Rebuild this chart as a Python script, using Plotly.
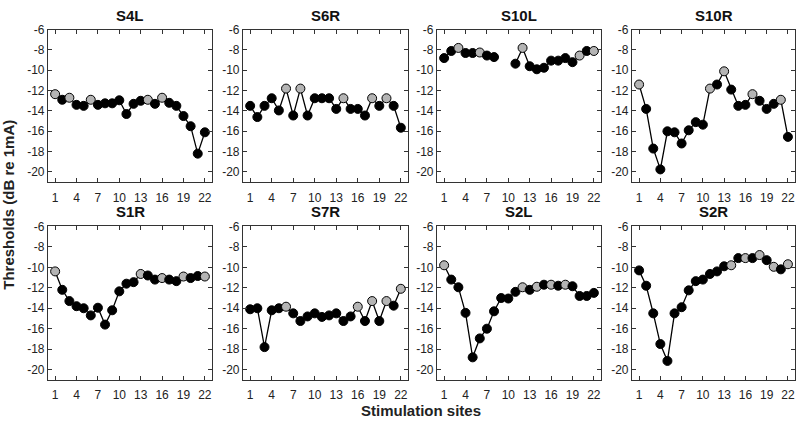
import plotly.graph_objects as go

sites = list(range(1, 23))
subjects = ["S4L", "S6R", "S10L", "S10R", "S1R", "S7R", "S2L", "S2R"]

s4l = [-12.35, -12.9, -12.7, -13.4, -13.5, -12.9, -13.4, -13.25, -13.25, -12.95, -14.3,
       -13.3, -13.0, -12.9, -13.3, -12.7, -13.2, -13.5, -14.5, -15.5, -18.2, -16.1]
s6r = [-13.5, -14.6, -13.5, -12.75, -13.95, -11.8, -14.45, -11.8, -14.45, -12.75, -12.75,
       -12.75, -13.8, -12.75, -13.8, -13.8, -14.45, -12.75, -13.5, -12.75, -13.5, -15.65]
s10l = [-8.8, -8.1, -7.8, -8.3, -8.3, -8.25, -8.55, -8.7, None, None, -9.35,
        -7.8, -9.6, -9.9, -9.75, -9.05, -9.05, -8.8, -9.2, -8.55, -8.1, -8.1]
s10r = [-11.4, -13.8, -17.7, -19.75, -16.0, -16.1, -17.2, -15.9, -15.1, -15.35, -11.8,
        -11.4, -10.1, -11.9, -13.5, -13.4, -12.35, -13.0, -13.8, -13.3, -12.9, -16.55]
s1r = [-10.4, -12.2, -13.3, -13.8, -14.0, -14.7, -13.95, -15.6, -14.2, -12.35, -11.6,
       -11.45, -10.65, -10.8, -11.2, -11.05, -11.2, -11.35, -10.9, -11.05, -10.85, -10.9]
s7r = [-14.1, -14.0, -17.8, -14.2, -14.0, -13.85, -14.5, -15.25, -14.8, -14.5, -14.85,
       -14.7, -14.5, -15.25, -14.8, -13.85, -15.25, -13.3, -15.25, -13.3, -13.75, -12.1]
s2l = [-9.8, -11.2, -11.95, -14.45, -18.8, -16.95, -16.0, -14.3, -13.0, -13.05, -12.4,
       -11.95, -12.2, -11.9, -11.7, -11.7, -11.8, -11.7, -11.85, -12.8, -12.8, -12.5]
s2r = [-10.3, -11.8, -14.5, -17.5, -19.15, -14.5, -13.9, -12.25, -11.35, -11.2, -10.65,
       -10.4, -9.9, -9.8, -9.1, -9.1, -9.1, -8.8, -9.3, -9.95, -10.2, -9.7]

# sites drawn with a grey marker
grey_s4l = [1, 3, 6, 14, 16]
grey_s6r = [6, 8, 14, 18, 20]
grey_s10l = [3, 6, 12, 20, 22]
grey_s10r = [1, 11, 13, 17, 21]
grey_s1r = [1, 13, 16, 19, 22]
grey_s7r = [6, 16, 18, 20, 22]
grey_s2l = [1, 12, 14, 16, 18]
grey_s2r = [14, 16, 18, 20, 22]

values = [s4l, s6r, s10l, s10r, s1r, s7r, s2l, s2r]
greys = [grey_s4l, grey_s6r, grey_s10l, grey_s10r, grey_s1r, grey_s7r, grey_s2l, grey_s2r]

x_ticks = [1, 4, 7, 10, 13, 16, 19, 22]
y_ticks = [-6, -8, -10, -12, -14, -16, -18, -20]
y_tick_labels = ["-6", "-8", "-10", "-12", "-14", "-16", "-18", "-20"]

W, H = 798, 432
col_px = [(48, 212), (243, 408), (437, 601), (632, 795)]
row_px = [(23, 178), (223, 379)]


def fx(px):
    return px / W


def fy(py):
    return 1 - py / H


fig = go.Figure()
layout = dict(width=W, height=H, margin=dict(l=0, r=0, t=0, b=0),
              paper_bgcolor="white", plot_bgcolor="white", showlegend=False,
              font=dict(family="Liberation Sans, Arial, sans-serif", color="#222"))
annotations = []
for i, (name, vals, grey) in enumerate(zip(subjects, values, greys)):
    r, c = divmod(i, 4)
    n = i + 1
    xa = "x" if n == 1 else f"x{n}"
    ya = "y" if n == 1 else f"y{n}"
    colors = ["#b4b4b4" if s in grey else "black" for s in sites]
    fig.add_trace(go.Scatter(
        x=sites, y=vals, mode="lines+markers", xaxis=xa, yaxis=ya,
        connectgaps=False, cliponaxis=False,
        line=dict(color="black", width=1.3),
        marker=dict(size=9, color=colors, line=dict(color="black", width=1)),
    ))
    x0, x1 = col_px[c]
    y0, y1 = row_px[r]
    common = dict(showline=True, linecolor="#333", linewidth=1.2, mirror="ticks",
                  ticks="inside", ticklen=4, tickcolor="#333", showgrid=False,
                  zeroline=False, tickfont=dict(size=12, color="#222"))
    layout["xaxis" + ("" if n == 1 else str(n))] = dict(
        domain=[fx(x0), fx(x1)], range=[0, 23], tickvals=x_ticks,
        anchor=ya, ticklabelstandoff=4, **common)
    layout["yaxis" + ("" if n == 1 else str(n))] = dict(
        domain=[fy(y1), fy(y0)], range=[-21, -6], tickvals=y_ticks,
        ticktext=y_tick_labels, anchor=xa, **common)
    annotations.append(dict(text=f"<b>{name}</b>", x=fx((x0 + x1) / 2), y=fy(y0 - 4),
                            xref="paper", yref="paper", xanchor="center", yanchor="bottom",
                            showarrow=False, font=dict(size=15, color="#111")))

annotations.append(dict(text="<b>Thresholds (dB re 1mA)</b>", x=fx(9), y=fy(201),
                        xref="paper", yref="paper", textangle=-90, showarrow=False,
                        xanchor="center", yanchor="middle", font=dict(size=15, color="#222")))
annotations.append(dict(text="<b>Stimulation sites</b>", x=fx(421), y=fy(410),
                        xref="paper", yref="paper", showarrow=False,
                        xanchor="center", yanchor="middle", font=dict(size=15, color="#222")))
layout["annotations"] = annotations
fig.update_layout(**layout)
fig.write_html("out.html",
               config={"displayModeBar": False},
               post_script="document.body.style.margin='0px';"
                           "document.body.style.overflow='hidden';")
